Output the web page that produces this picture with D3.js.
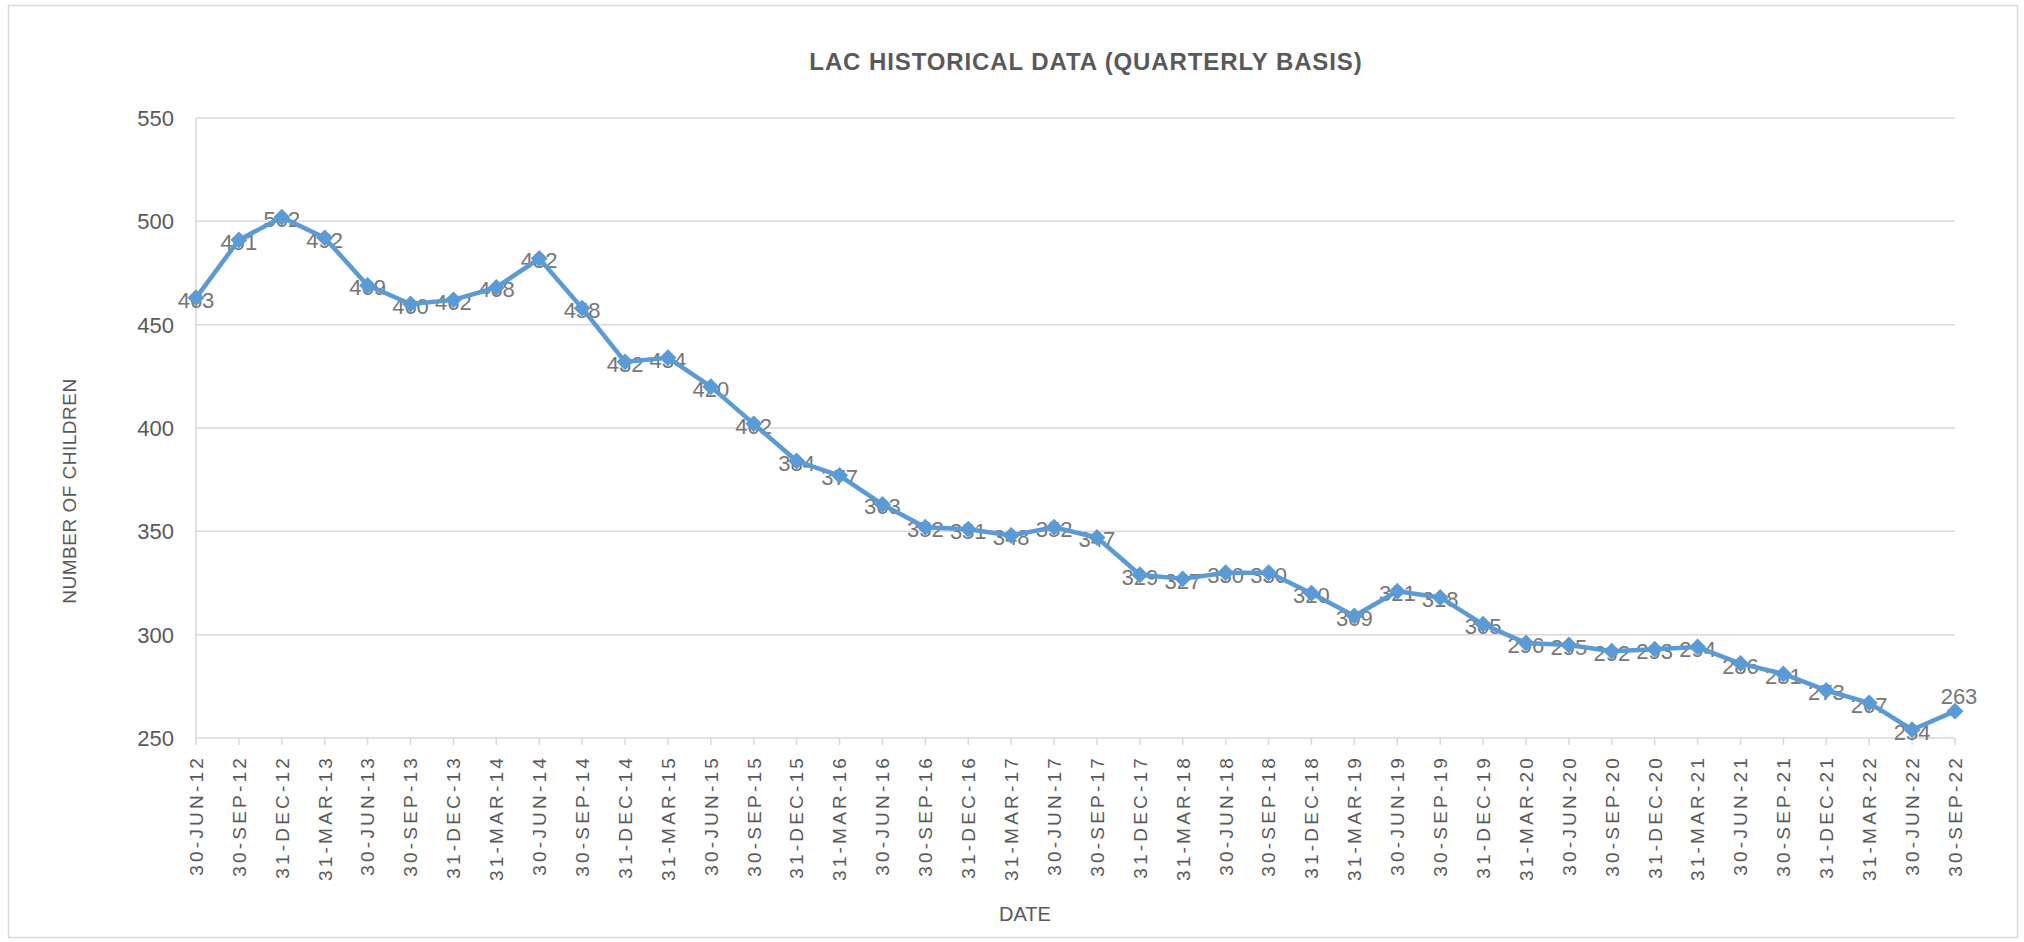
<!DOCTYPE html>
<html lang="en">
<head>
<meta charset="UTF-8">
<title>LAC Historical Data</title>
<script src="https://d3js.org/d3.v7.min.js"></script>
<style>
    body { margin: 0; background: #fff; }
    svg text { font-family: "Liberation Sans", Arial, sans-serif; }
</style>
</head>
<body>
<div id="chart"></div>
<script>
// quarter-end dates as printed on the axis
const dates = [
    "30-JUN-12", "30-SEP-12", "31-DEC-12", "31-MAR-13", "30-JUN-13", "30-SEP-13",
    "31-DEC-13", "31-MAR-14", "30-JUN-14", "30-SEP-14", "31-DEC-14", "31-MAR-15",
    "30-JUN-15", "30-SEP-15", "31-DEC-15", "31-MAR-16", "30-JUN-16", "30-SEP-16",
    "31-DEC-16", "31-MAR-17", "30-JUN-17", "30-SEP-17", "31-DEC-17", "31-MAR-18",
    "30-JUN-18", "30-SEP-18", "31-DEC-18", "31-MAR-19", "30-JUN-19", "30-SEP-19",
    "31-DEC-19", "31-MAR-20", "30-JUN-20", "30-SEP-20", "31-DEC-20", "31-MAR-21",
    "30-JUN-21", "30-SEP-21", "31-DEC-21", "31-MAR-22", "30-JUN-22", "30-SEP-22"
];

// number of looked after children at each quarter end
const children = [
    463, 491, 502, 492, 469, 460,
    462, 468, 482, 458, 432, 434,
    420, 402, 384, 377, 363, 352,
    351, 348, 352, 347, 329, 327,
    330, 330, 320, 309, 321, 318,
    305, 296, 295, 292, 293, 294,
    286, 281, 273, 267, 254, 263
];

const yTicks = [250, 300, 350, 400, 450, 500, 550];

const width = 2024, height = 942;
const margin = { top: 118, right: 69, bottom: 204, left: 196 };

const svg = d3.select("#chart").append("svg")
    .attr("width", width)
    .attr("height", height);

// chart frame
svg.append("rect")
    .attr("x", 8.5).attr("y", 5.5)
    .attr("width", 2009).attr("height", 932)
    .attr("fill", "#fff")
    .attr("stroke", "#d9d9d9")
    .attr("stroke-width", 1.5);

const x = d3.scalePoint()
    .domain(dates)
    .range([margin.left, width - margin.right]);

const y = d3.scaleLinear()
    .domain([250, 550])
    .range([height - margin.bottom, margin.top]);

// gridlines
svg.append("g")
    .selectAll("line")
    .data(yTicks)
    .enter().append("line")
    .attr("x1", margin.left)
    .attr("x2", width - margin.right)
    .attr("y1", d => y(d))
    .attr("y2", d => y(d))
    .attr("stroke", "#d9d9d9")
    .attr("stroke-width", 1.5);

// left axis line
svg.append("line")
    .attr("x1", margin.left).attr("x2", margin.left)
    .attr("y1", y(550)).attr("y2", y(250))
    .attr("stroke", "#d9d9d9")
    .attr("stroke-width", 1.5);

// y tick labels
svg.append("g")
    .selectAll("text")
    .data(yTicks)
    .enter().append("text")
    .attr("x", margin.left - 22)
    .attr("y", d => y(d))
    .attr("dy", "0.36em")
    .attr("text-anchor", "end")
    .attr("font-size", 22)
    .attr("fill", "#595959")
    .text(d => d);

// x axis ticks
svg.append("g")
    .selectAll("line")
    .data(dates)
    .enter().append("line")
    .attr("x1", d => x(d)).attr("x2", d => x(d))
    .attr("y1", y(250)).attr("y2", y(250) + 7)
    .attr("stroke", "#d9d9d9")
    .attr("stroke-width", 1.5);

// x tick labels, rotated
svg.append("g")
    .selectAll("text")
    .data(dates)
    .enter().append("text")
    .attr("transform", d => `translate(${x(d)},${y(250) + 17}) rotate(-90)`)
    .attr("text-anchor", "end")
    .attr("dy", "0.36em")
    .attr("font-size", 19)
    .attr("letter-spacing", "3.2px")
    .attr("fill", "#595959")
    .text(d => d);

// title
svg.append("text")
    .attr("x", 1086)
    .attr("y", 70)
    .attr("text-anchor", "middle")
    .attr("font-size", 24)
    .attr("font-weight", "bold")
    .attr("letter-spacing", "0.9px")
    .attr("fill", "#595959")
    .text("LAC HISTORICAL DATA (QUARTERLY BASIS)");

// axis titles
svg.append("text")
    .attr("transform", "translate(69,491) rotate(-90)")
    .attr("text-anchor", "middle")
    .attr("dy", "0.36em")
    .attr("font-size", 19)
    .attr("letter-spacing", "0.5px")
    .attr("fill", "#595959")
    .text("NUMBER OF CHILDREN");

svg.append("text")
    .attr("x", 1025)
    .attr("y", 921)
    .attr("text-anchor", "middle")
    .attr("font-size", 20)
    .attr("fill", "#595959")
    .text("DATE");

// data labels (drawn under the line and markers)
const last = dates.length - 1;
svg.append("g")
    .selectAll("text")
    .data(children)
    .enter().append("text")
    .attr("x", (d, i) => x(dates[i]) + (i === last ? 4 : 0))
    .attr("y", (d, i) => y(d) + (i === last ? -15 : 2))
    .attr("dy", "0.36em")
    .attr("text-anchor", "middle")
    .attr("font-size", 22)
    .attr("fill", "#767676")
    .text(d => d);

// line
const line = d3.line()
    .x((d, i) => x(dates[i]))
    .y(d => y(d));

svg.append("path")
    .datum(children)
    .attr("d", line)
    .attr("fill", "none")
    .attr("stroke", "#5b9bd5")
    .attr("stroke-width", 4.5)
    .attr("stroke-linejoin", "round");

// diamond markers
svg.append("g")
    .selectAll("rect")
    .data(children)
    .enter().append("rect")
    .attr("x", -6).attr("y", -6)
    .attr("width", 12).attr("height", 12)
    .attr("transform", (d, i) => `translate(${x(dates[i])},${y(d)}) rotate(45)`)
    .attr("fill", "#5b9bd5");
</script>
</body>
</html>
